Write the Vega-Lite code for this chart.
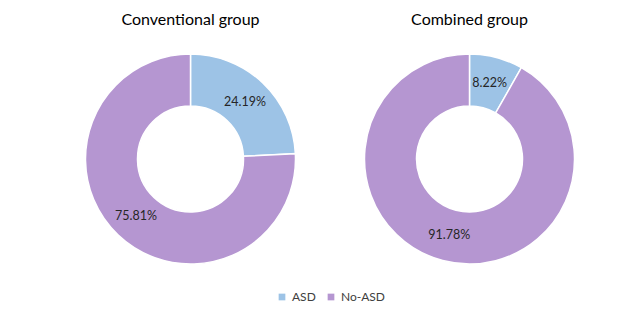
{
  "$schema": "https://vega.github.io/schema/vega-lite/v6.json",
  "padding": {"left": 51, "top": 12, "right": 0, "bottom": 0},
  "background": "white",
  "data": {"values": [
    {"group": "Conventional group", "category": "ASD", "value": 0.2419},
    {"group": "Conventional group", "category": "No-ASD", "value": 0.7581},
    {"group": "Combined group", "category": "ASD", "value": 0.0822},
    {"group": "Combined group", "category": "No-ASD", "value": 0.9178}
  ]},
  "spacing": 0,
  "hconcat": [
    {
      "title": "Conventional group",
      "width": 279, "height": 220,
      "transform": [{"filter": "datum.group === 'Conventional group'"}],
      "encoding": {
        "theta": {"field": "value", "type": "quantitative", "stack": true},
        "color": {"field": "category", "type": "nominal",
          "scale": {"domain": ["ASD", "No-ASD"], "range": ["#9DC3E6", "#B596D1"]},
          "legend": {"title": null}}
      },
      "layer": [
        {"mark": {"type": "arc", "outerRadius": 105, "innerRadius": 53, "stroke": "white", "strokeWidth": 1.5}},
        {"mark": {"type": "text", "radius": 79, "font": "Lato", "fontSize": 12.5, "fill": "#262626"},
         "encoding": {"text": {"field": "value", "type": "quantitative", "format": ".2%"}, "color": {"value": "#262626"}}}
      ]
    },
    {
      "title": "Combined group",
      "width": 279, "height": 220,
      "transform": [{"filter": "datum.group === 'Combined group'"}],
      "encoding": {
        "theta": {"field": "value", "type": "quantitative", "stack": true},
        "color": {"field": "category", "type": "nominal",
          "scale": {"domain": ["ASD", "No-ASD"], "range": ["#9DC3E6", "#B596D1"]},
          "legend": {"title": null}}
      },
      "layer": [
        {"mark": {"type": "arc", "outerRadius": 105, "innerRadius": 53, "stroke": "white", "strokeWidth": 1.5}},
        {"mark": {"type": "text", "radius": 79, "font": "Lato", "fontSize": 12.5, "fill": "#262626"},
         "encoding": {"text": {"field": "value", "type": "quantitative", "format": ".2%"}, "color": {"value": "#262626"}}}
      ]
    }
  ],
  "config": {
    "view": {"stroke": null},
    "title": {"font": "Lato", "fontSize": 16, "fontWeight": "normal", "color": "#000000", "offset": 21, "anchor": "middle"},
    "legend": {
      "orient": "bottom", "direction": "horizontal",
      "labelFont": "Lato", "labelFontSize": 12, "labelColor": "#404040",
      "symbolType": "square", "symbolSize": 45, "symbolStrokeWidth": 0,
      "labelOffset": 4, "columnPadding": 9, "offset": 22,
      "layout": {"bottom": {"anchor": "middle"}}
    }
  }
}
